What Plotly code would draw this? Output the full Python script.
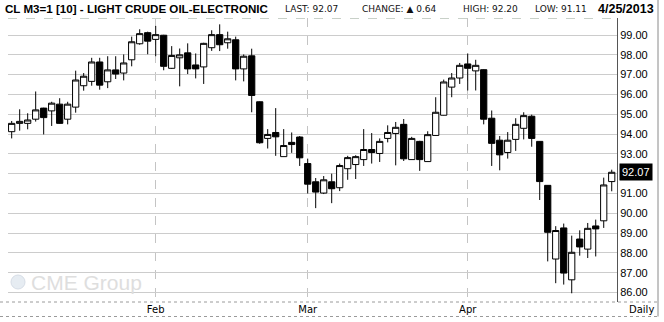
import plotly.graph_objects as go

# ---------------- data ----------------
dates_jan = ["2013-01-07", "2013-01-08", "2013-01-09", "2013-01-10", "2013-01-11", "2013-01-14",
             "2013-01-15", "2013-01-16", "2013-01-17", "2013-01-18", "2013-01-22", "2013-01-23",
             "2013-01-24", "2013-01-25", "2013-01-28", "2013-01-29", "2013-01-30", "2013-01-31"]
dates_feb = ["2013-02-01", "2013-02-04", "2013-02-05", "2013-02-06", "2013-02-07", "2013-02-08",
             "2013-02-11", "2013-02-12", "2013-02-13", "2013-02-14", "2013-02-15", "2013-02-19",
             "2013-02-20", "2013-02-21", "2013-02-22", "2013-02-25", "2013-02-26", "2013-02-27",
             "2013-02-28"]
dates_mar = ["2013-03-01", "2013-03-04", "2013-03-05", "2013-03-06", "2013-03-07", "2013-03-08",
             "2013-03-11", "2013-03-12", "2013-03-13", "2013-03-14", "2013-03-15", "2013-03-18",
             "2013-03-19", "2013-03-20", "2013-03-21", "2013-03-22", "2013-03-25", "2013-03-26",
             "2013-03-27", "2013-03-28"]
dates_apr = ["2013-04-01", "2013-04-02", "2013-04-03", "2013-04-04", "2013-04-05", "2013-04-08",
             "2013-04-09", "2013-04-10", "2013-04-11", "2013-04-12", "2013-04-15", "2013-04-16",
             "2013-04-17", "2013-04-18", "2013-04-19", "2013-04-22", "2013-04-23", "2013-04-24",
             "2013-04-25"]
dates = dates_jan + dates_feb + dates_mar + dates_apr

open_ = [94.12, 94.54, 94.54, 94.75, 95.31, 95.17, 95.51, 94.75, 95.36, 96.44,
         96.66, 97.64, 96.64, 97.24, 97.08, 97.75, 98.56, 99.12, 98.78, 98.99,
         97.32, 97.85, 98.10, 97.49, 97.39, 98.36, 99.02, 98.61, 98.76, 97.29,
         97.95, 95.63, 93.78, 94.08, 92.86, 93.58, 93.85, 92.51, 91.59, 91.02,
         91.59, 91.29, 92.25, 92.46, 92.71, 93.22, 93.02, 93.78, 94.03, 94.49,
         92.71, 93.63, 92.61, 93.93, 94.95, 96.37, 96.83, 97.54, 97.19, 97.25,
         94.80, 93.69, 93.07, 93.73, 94.29, 94.90, 93.63, 91.41, 87.69, 89.26,
         86.64, 88.70, 88.19, 89.36, 89.62, 91.60]
high = [94.66, 95.25, 95.05, 96.15, 95.33, 95.63, 95.81, 95.63, 97.20, 97.08,
        97.85, 97.85, 97.93, 97.93, 98.02, 98.92, 99.29, 99.17, 99.46, 99.01,
        98.44, 98.32, 98.58, 98.07, 98.61, 99.24, 99.54, 99.17, 98.92, 98.02,
        98.31, 95.65, 94.25, 95.31, 94.25, 94.08, 93.90, 92.76, 91.78, 91.88,
        92.00, 92.51, 92.90, 92.93, 94.25, 94.05, 93.78, 94.44, 94.61, 94.76,
        93.86, 93.66, 94.14, 95.86, 96.75, 97.08, 97.59, 98.07, 97.75, 97.27,
        95.19, 93.90, 94.10, 94.80, 95.10, 94.98, 93.64, 91.42, 89.35, 89.48,
        88.87, 89.14, 89.51, 89.68, 91.80, 92.20]
low = [93.78, 94.17, 94.24, 94.63, 93.98, 94.41, 94.52, 94.49, 95.08, 96.19,
       96.44, 96.24, 96.32, 96.78, 96.71, 97.42, 98.51, 98.03, 97.93, 97.22,
       97.29, 96.41, 97.03, 96.81, 96.53, 98.20, 98.19, 98.31, 96.71, 96.66,
       95.10, 93.51, 93.27, 92.90, 92.86, 93.05, 92.39, 91.00, 90.26, 90.97,
       90.51, 91.12, 91.69, 91.73, 92.39, 92.51, 92.59, 93.58, 92.42, 92.64,
       92.70, 92.14, 92.60, 93.92, 94.94, 95.86, 96.53, 96.20, 96.20, 94.49,
       92.39, 92.17, 92.76, 93.15, 93.73, 93.36, 90.67, 87.57, 86.47, 86.40,
       85.96, 87.86, 87.74, 87.82, 89.26, 91.11]
close = [94.54, 94.64, 94.71, 95.22, 94.83, 95.56, 94.54, 95.51, 96.73, 96.92,
         97.64, 96.47, 97.24, 97.03, 97.59, 98.66, 99.07, 98.69, 99.02, 97.42,
         97.97, 98.00, 97.29, 97.29, 98.58, 99.02, 98.51, 98.81, 97.29, 97.93,
         95.95, 93.56, 93.98, 93.86, 93.42, 93.47, 92.80, 91.47, 91.07, 91.69,
         91.24, 92.41, 92.81, 92.86, 93.22, 93.07, 93.63, 94.08, 94.34, 92.75,
         93.78, 92.71, 93.97, 95.10, 96.63, 96.83, 97.47, 97.32, 97.47, 94.75,
         93.53, 92.95, 93.69, 94.49, 94.93, 93.78, 91.60, 89.04, 89.13, 86.98,
         88.03, 88.30, 89.24, 89.21, 91.43, 92.07]

month_ticks = ["2013-02-01", "2013-03-01", "2013-04-01"]
month_labels = ["Feb", "Mar", "Apr"]
price_ticks = [86, 87, 88, 89, 90, 91, 92, 93, 94, 95, 96, 97, 98, 99]
price_labels = ["86.00", "87.00", "88.00", "89.00", "90.00", "91.00", "92.00",
                "93.00", "94.00", "95.00", "96.00", "97.00", "98.00", "99.00"]
last_price = 92.07
title_text = "CL M3=1 [10] - LIGHT CRUDE OIL-ELECTRONIC"
stats = [("LAST: 92.07", 283), ("CHANGE: \u25b2 0.64", 360), ("HIGH: 92.20", 461), ("LOW: 91.11", 533)]
date_text = "4/25/2013"

# ---------------- layout geometry ----------------
W, H = 664, 322
L, R, T, B = 8, 47, 18, 20
PW, PH = W - L - R, H - T - B


def px(xp):
    return (xp - L) / PW


def py(yp):
    return (H - B - yp) / PH


fig = go.Figure()
fig.add_trace(go.Candlestick(
    x=dates, open=open_, high=high, low=low, close=close,
    increasing=dict(line=dict(color="black", width=1), fillcolor="white"),
    decreasing=dict(line=dict(color="black", width=1), fillcolor="black"),
    whiskerwidth=0, hoverinfo="skip", showlegend=False,
))

# the 92.00 label sits under the last-price box
ticktext = [("" if v == 92 else t) for v, t in zip(price_ticks, price_labels)]

fig.update_layout(
    width=W, height=H,
    margin=dict(l=L, r=R, t=T, b=B, pad=0),
    paper_bgcolor="white", plot_bgcolor="white",
    boxgap=0.22, boxgroupgap=0,
    font=dict(family="Liberation Sans, Arial, sans-serif", color="black", size=11),
    xaxis=dict(
        type="category", range=[-0.46, 75.66],
        rangeslider=dict(visible=False),
        tickmode="array", tickvals=month_ticks, ticktext=month_labels,
        showgrid=True, gridcolor="#c4c4c4", gridwidth=1, griddash="dash",
        ticks="", tickfont=dict(size=10, family="DejaVu Sans, sans-serif"),
        showline=False, zeroline=False, fixedrange=True,
    ),
    yaxis=dict(
        side="right", range=[85.52, 99.86],
        tickmode="array", tickvals=price_ticks, ticktext=ticktext,
        showgrid=True, gridcolor="#cccccc", gridwidth=1,
        ticks="", tickfont=dict(size=11, family="Liberation Sans, Arial"),
        showline=True, linecolor="#555555", linewidth=1,
        zeroline=False, fixedrange=True,
    ),
)

ann = []
ann.append(dict(text="<b>" + title_text + "</b>", x=px(3), y=py(9), xref="paper", yref="paper",
                xanchor="left", yanchor="middle", showarrow=False,
                font=dict(family="Liberation Sans, Arial, sans-serif", size=11.6, color="black")))
for s, xs in stats:
    ann.append(dict(text=s, x=px(xs), y=py(9.5), xref="paper", yref="paper",
                    xanchor="left", yanchor="middle", showarrow=False,
                    font=dict(family="DejaVu Sans, sans-serif", size=9, color="#111111")))
ann.append(dict(text="<b>" + date_text + "</b>", x=px(656), y=py(9), xref="paper", yref="paper",
                xanchor="right", yanchor="middle", showarrow=False,
                font=dict(family="Liberation Sans, Arial, sans-serif", size=12.5, color="black")))
# last price box
ann.append(dict(text="92.07", x=px(619), y=last_price, xref="paper", yref="y",
                xanchor="left", yanchor="middle", showarrow=False, bgcolor="black",
                borderpad=2, font=dict(size=11, color="white", family="Liberation Sans, Arial")))
# Daily label
ann.append(dict(text="Daily", x=px(656), y=py(309), xref="paper", yref="paper",
                xanchor="right", yanchor="middle", showarrow=False,
                font=dict(size=10, color="black", family="DejaVu Sans, sans-serif")))
# watermark
ann.append(dict(text="CME Group", x=px(29), y=py(282), xref="paper", yref="paper",
                xanchor="left", yanchor="middle", showarrow=False,
                font=dict(size=21, color="#dedede", family="Liberation Sans, Arial")))
fig.update_layout(annotations=ann)

shapes = [
    # globe of watermark
    dict(type="circle", xref="paper", yref="paper", x0=px(11), x1=px(25), y0=py(289), y1=py(275),
         line=dict(color="#d6dde6", width=1), fillcolor="#e6ecf2"),
    # top dashed line of plot
    dict(type="line", xref="paper", yref="paper", x0=px(8), x1=px(617), y0=py(18.5), y1=py(18.5),
         line=dict(color="#c8d0c8", width=1, dash="dash")),
    # bottom of plot
    dict(type="line", xref="paper", yref="paper", x0=px(0), x1=px(658), y0=py(302), y1=py(302),
         line=dict(color="#9a9a9a", width=1, dash="dot")),
    # bottom border
    dict(type="line", xref="paper", yref="paper", x0=px(0), x1=px(658), y0=py(316.5), y1=py(316.5),
         line=dict(color="#9a9a9a", width=1, dash="dot")),
    # right outer border
    dict(type="line", xref="paper", yref="paper", x0=px(658), x1=px(658), y0=py(0), y1=py(316.5),
         line=dict(color="#8a8a8a", width=1)),
]
fig.update_layout(shapes=shapes)

fig.write_html("out.html")
